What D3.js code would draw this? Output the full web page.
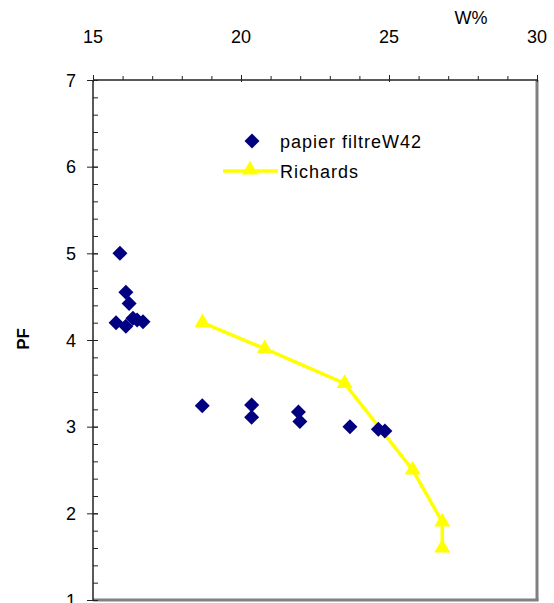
<!DOCTYPE html>
<html><head><meta charset="utf-8">
<script src="https://cdn.jsdelivr.net/npm/d3@7/dist/d3.min.js"></script>
<style>body{margin:0;background:#fff}svg{display:block}text{font-family:"Liberation Sans",Arial,sans-serif}</style>
</head><body>
<script>
const xTicks = [15, 20, 25, 30];
const yTicks = [1, 2, 3, 4, 5, 6, 7];
const papierW = [15.91, 16.11, 16.22, 15.78, 16.11, 16.35, 16.49, 16.69, 18.69, 20.36, 20.36, 21.94, 21.99, 23.68, 24.64, 24.86];
const papierPF = [5.0, 4.55, 4.42, 4.20, 4.16, 4.25, 4.23, 4.21, 3.24, 3.25, 3.11, 3.17, 3.06, 3.00, 2.97, 2.95];
const richW = [18.7, 20.8, 23.5, 25.8, 26.8, 26.8];
const richPF = [4.2, 3.9, 3.5, 2.5, 1.9, 1.6];
const seriesNames = ["papier filtreW42", "Richards"];

const W = 554, H = 603;
const L = 93, R = 537, T = 80, B = 600;
const svg = d3.select("body").append("svg").attr("width", W).attr("height", H);
const x = d3.scaleLinear().domain([15, 30]).range([L, R]);
const y = d3.scaleLinear().domain([1, 7]).range([B, T]);

// plot border (bottom/right gray)
svg.append("line").attr("x1", R).attr("x2", R).attr("y1", T).attr("y2", B + 1).attr("stroke", "#808080").attr("stroke-width", 3);
svg.append("line").attr("x1", L).attr("x2", R + 1.5).attr("y1", B).attr("y2", B).attr("stroke", "#808080").attr("stroke-width", 3);

// top axis
const minorX = d3.range(15, 30.001, 1);
const gx = svg.append("g").attr("transform", `translate(0,${T})`);
gx.call(d3.axisTop(x).tickValues(minorX).tickSize(4).tickFormat(""));
gx.append("g").call(d3.axisTop(x).tickValues(xTicks).tickSize(6).tickFormat(""))
  .selectAll(".tick line").attr("y2", -5).attr("y1", 2);
gx.selectAll("path.domain").attr("d", `M${L},0H${R}`).attr("stroke", "#222");
gx.selectAll(".tick line").attr("stroke", "#222");
svg.selectAll(".xlab").data(xTicks).enter().append("text")
  .attr("x", d => x(d)).attr("y", 43).attr("text-anchor", "middle")
  .attr("font-size", 18).attr("fill", "#000").text(d => d);
svg.append("text").attr("x", 471).attr("y", 24).attr("text-anchor", "middle")
  .attr("font-size", 18).attr("fill", "#000").text("W%");

// left axis
const minorY = d3.range(1, 7.001, 0.2);
const gy = svg.append("g").attr("transform", `translate(${L},0)`);
gy.call(d3.axisLeft(y).tickValues(minorY).tickSize(-5).tickFormat(""));
gy.append("g").call(d3.axisLeft(y).tickValues(yTicks).tickSize(6).tickFormat(""))
  .selectAll(".tick line").attr("x2", -6).attr("x1", 5);
gy.selectAll("path.domain").attr("d", `M0,${T}V${B}`).attr("stroke", "#222");
gy.selectAll(".tick line").attr("stroke", "#222");
svg.selectAll(".ylab").data(yTicks).enter().append("text")
  .attr("x", 76).attr("y", d => y(d) + 6.5).attr("text-anchor", "end")
  .attr("font-size", 18).attr("fill", "#000").text(d => d);
svg.append("text").attr("transform", `translate(29,339) rotate(-90)`).attr("text-anchor", "middle")
  .attr("font-size", 17).attr("font-weight", "bold").attr("fill", "#000").text("PF");

// Richards line
const rich = richW.map((w, i) => [w, richPF[i]]);
svg.append("path").datum(rich).attr("fill", "none").attr("stroke", "#FFFF00").attr("stroke-width", 3.5)
  .attr("d", d3.line().x(d => x(d[0])).y(d => y(d[1])));
const tri = d3.symbol().type(d3.symbolTriangle).size(110);
svg.selectAll(".tri").data(rich).enter().append("path")
  .attr("transform", d => `translate(${x(d[0])},${y(d[1])})`).attr("d", tri).attr("fill", "#FFFF00");

// papier diamonds
const pap = papierW.map((w, i) => [w, papierPF[i]]);
const dia = "M0,-7.5L7.5,0L0,7.5L-7.5,0Z";
svg.selectAll(".dia").data(pap).enter().append("path")
  .attr("transform", d => `translate(${x(d[0])},${y(d[1])})`).attr("d", dia).attr("fill", "#000080");

// legend
svg.append("path").attr("transform", "translate(252,141)").attr("d", dia).attr("fill", "#000080");
svg.append("text").attr("x", 280).attr("y", 148).attr("font-size", 18).attr("letter-spacing", 1.0).attr("fill", "#000").text(seriesNames[0]);
svg.append("line").attr("x1", 223).attr("x2", 278).attr("y1", 171).attr("y2", 171).attr("stroke", "#FFFF00").attr("stroke-width", 3.5);
svg.append("path").attr("transform", "translate(250,170)").attr("d", tri).attr("fill", "#FFFF00");
svg.append("text").attr("x", 280).attr("y", 178).attr("font-size", 18).attr("letter-spacing", 1.0).attr("fill", "#000").text(seriesNames[1]);
</script>
</body></html>
